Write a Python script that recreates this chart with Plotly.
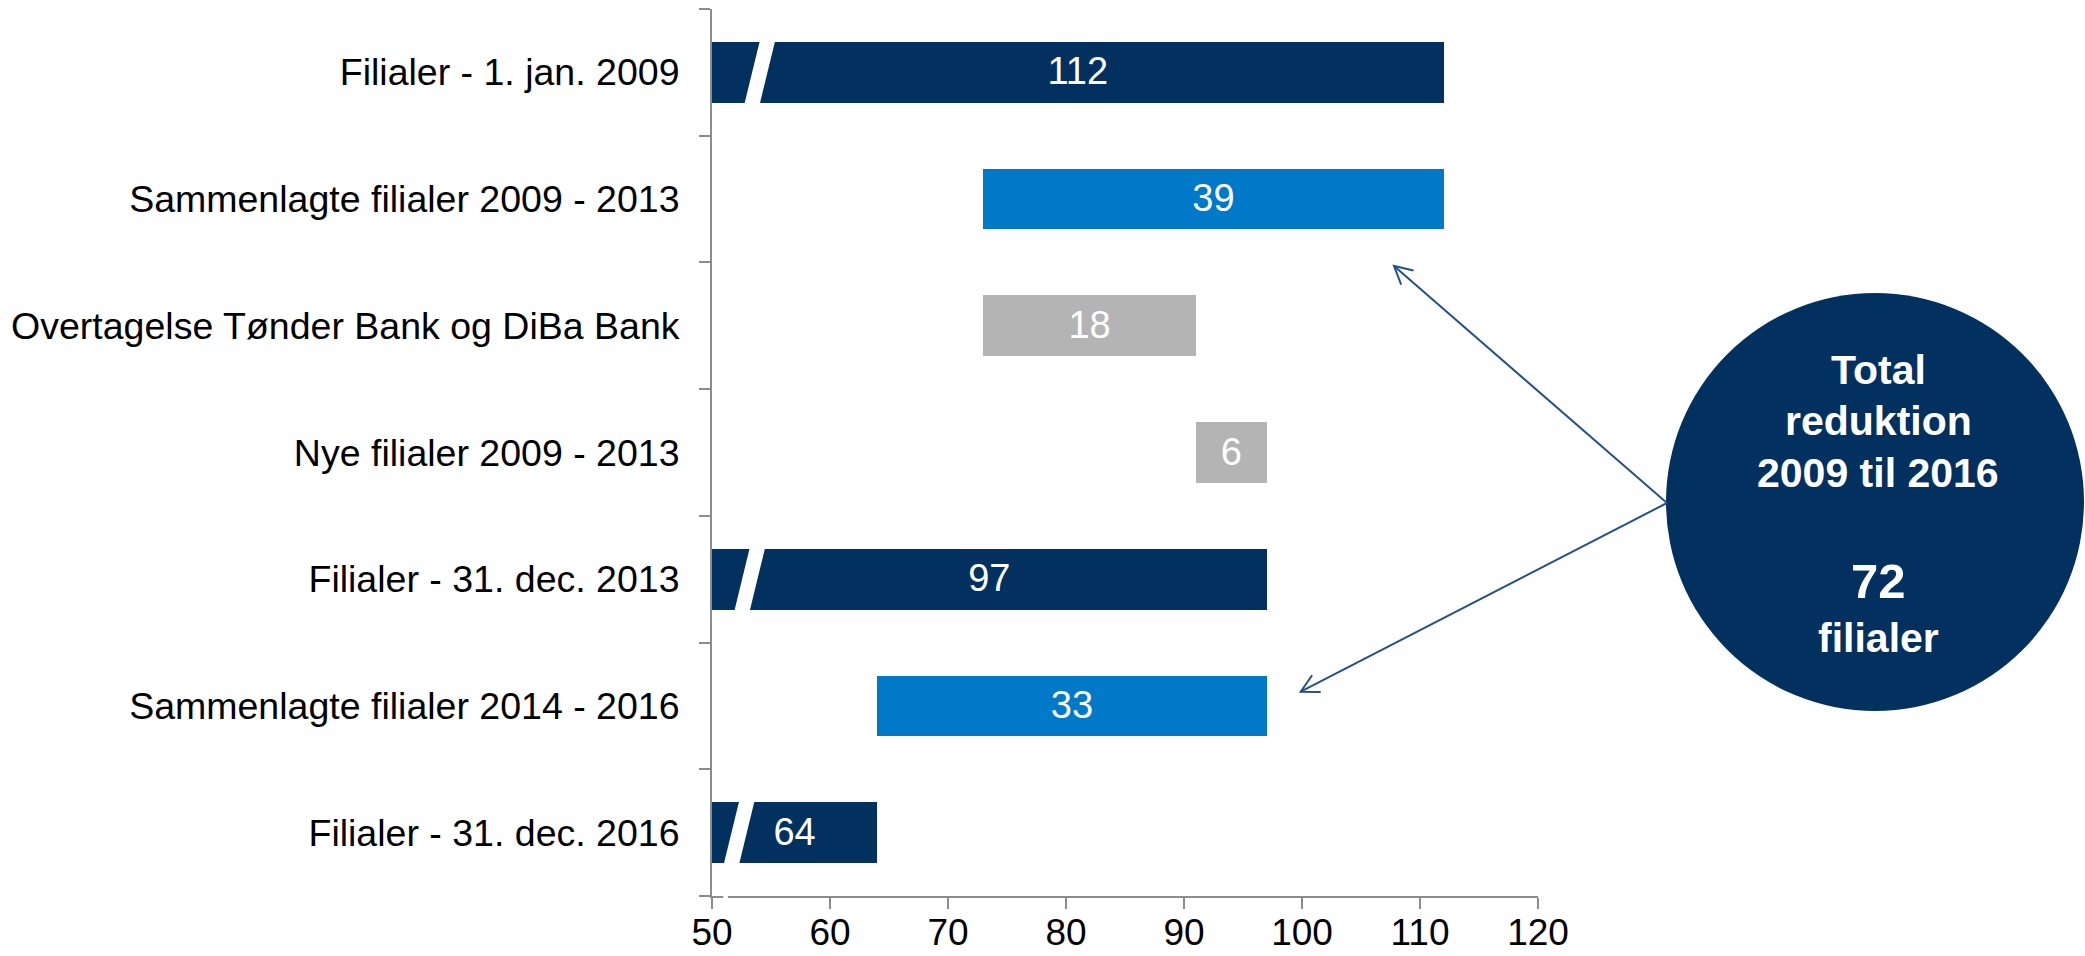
import math
import plotly.graph_objects as go

# ---------------- data ----------------
categories = [
    "Filialer - 1. jan. 2009",
    "Sammenlagte filialer 2009 - 2013",
    "Overtagelse Tønder Bank og DiBa Bank",
    "Nye filialer 2009 - 2013",
    "Filialer - 31. dec. 2013",
    "Sammenlagte filialer 2014 - 2016",
    "Filialer - 31. dec. 2016",
]
values = [112, 39, 18, 6, 97, 33, 64]
measures = ["total", "decrease", "increase", "increase", "total", "decrease", "total"]
x_tick_values = [50, 60, 70, 80, 90, 100, 110, 120]
circle_title_lines = ["Total", "reduktion", "2009 til 2016"]
circle_unit = "filialer"

# ---------------- style ----------------
NAVY = "#02305F"
BLUE = "#0079C8"
GREY = "#B4B4B4"
AXIS_GREY = "#8C8C8C"
ARROW = "#26508C"
FONT = "Arial, 'Liberation Sans', sans-serif"
measure_colors = {"total": NAVY, "decrease": BLUE, "increase": GREY}
X_MIN, X_MAX = x_tick_values[0], x_tick_values[-1]
break_x = [54.05, None, None, None, 53.2, None, 52.3]  # axis-break slash positions on total bars
BAR_W = 0.48

W, H = 2085, 956
ML, MR, MT, MB = 712, 547, 9, 60
PW, PH = W - ML - MR, H - MT - MB


def px(xp):
    return (xp - ML) / PW


def py(yp):
    return (H - MB - yp) / PH


# ---------------- waterfall geometry from data ----------------
starts, ends = [], []
running = 0
for v, m in zip(values, measures):
    if m == "total":
        s, e = 0, v
        running = v
    elif m == "decrease":
        s, e = running - v, running
        running = s
    else:
        s, e = running, running + v
        running = e
    starts.append(s)
    ends.append(e)

vis_base = [max(s, X_MIN) for s in starts]
vis_len = [e - b for e, b in zip(ends, vis_base)]
ypos = list(range(len(categories)))
total_reduction = sum(v for v, m in zip(values, measures) if m == "decrease")

fig = go.Figure()
fig.add_trace(go.Bar(
    orientation="h",
    y=ypos,
    x=vis_len,
    base=vis_base,
    width=BAR_W,
    marker=dict(color=[measure_colors[m] for m in measures], line=dict(width=0)),
    hoverinfo="skip",
    showlegend=False,
))

# white axis-break slashes on the total bars
half_h = 0.26
slant = 0.68
sw = 1.3
for i, bx in enumerate(break_x):
    if bx is None:
        continue
    xs = [bx - slant - sw / 2, bx - slant + sw / 2, bx + slant + sw / 2, bx + slant - sw / 2, bx - slant - sw / 2]
    ys = [i + half_h, i + half_h, i - half_h, i - half_h, i + half_h]
    fig.add_trace(go.Scatter(
        x=xs, y=ys, mode="lines", fill="toself", fillcolor="white",
        line=dict(width=0, color="white"), hoverinfo="skip", showlegend=False,
    ))

# value labels centred on the visible part of each bar
fig.add_trace(go.Scatter(
    x=[b + l / 2 for b, l in zip(vis_base, vis_len)],
    y=[i + 0.02 for i in ypos],
    mode="text",
    text=[str(v) for v in values],
    textposition="middle center",
    textfont=dict(family=FONT, size=38, color="white"),
    hoverinfo="skip", showlegend=False,
))

shapes = []
# small gap in the x-axis line next to the y-axis (axis break)
shapes.append(dict(type="rect", xref="x", yref="paper", x0=50.95, x1=51.35,
                   y0=-0.004, y1=0.004, fillcolor="white", line=dict(width=0), layer="above"))

# circle
cx, cy, r = 1875, 502, 209
shapes.append(dict(type="circle", xref="paper", yref="paper",
                   x0=px(cx - r), x1=px(cx + r), y0=py(cy + r), y1=py(cy - r),
                   fillcolor=NAVY, line=dict(width=0), layer="above"))

# arrows
origin = (1667, 503)
tips = [(1394, 266), (1300.7, 691.7)]
for tx, ty in tips:
    shapes.append(dict(type="line", xref="paper", yref="paper",
                       x0=px(origin[0]), y0=py(origin[1]), x1=px(tx), y1=py(ty),
                       line=dict(color=ARROW, width=2)))
    dx, dy = origin[0] - tx, origin[1] - ty
    n = math.hypot(dx, dy)
    dx, dy = dx / n, dy / n
    pts = []
    for ang in (math.radians(28), math.radians(-28)):
        ax = dx * math.cos(ang) - dy * math.sin(ang)
        ay = dx * math.sin(ang) + dy * math.cos(ang)
        pts.append((tx + 20 * ax, ty + 20 * ay))
    path = "M {:.5f} {:.5f} L {:.5f} {:.5f} L {:.5f} {:.5f}".format(
        px(pts[0][0]), py(pts[0][1]), px(tx), py(ty), px(pts[1][0]), py(pts[1][1]))
    shapes.append(dict(type="path", xref="paper", yref="paper", path=path,
                       line=dict(color=ARROW, width=2)))

annotations = []
line_y = [369.5, 421, 472.5]
for txt, yy in zip(circle_title_lines, line_y):
    annotations.append(dict(xref="paper", yref="paper", x=px(1878), y=py(yy),
                            xanchor="center", yanchor="middle", showarrow=False,
                            text="<b>%s</b>" % txt,
                            font=dict(family=FONT, size=41, color="white")))
annotations.append(dict(xref="paper", yref="paper", x=px(1878), y=py(581),
                        xanchor="center", yanchor="middle", showarrow=False,
                        text="<b>%d</b>" % total_reduction,
                        font=dict(family=FONT, size=49, color="white")))
annotations.append(dict(xref="paper", yref="paper", x=px(1878), y=py(637.5),
                        xanchor="center", yanchor="middle", showarrow=False,
                        text="<b>%s</b>" % circle_unit,
                        font=dict(family=FONT, size=41, color="white")))

fig.update_layout(
    template=None,
    width=W, height=H, autosize=False,
    margin=dict(l=ML, r=MR, t=MT, b=MB, pad=0, autoexpand=False),
    paper_bgcolor="white", plot_bgcolor="white",
    showlegend=False,
    bargap=0,
    shapes=shapes,
    annotations=annotations,
    font=dict(family=FONT, color="black"),
)
fig.update_xaxes(
    automargin=False,
    range=[X_MIN, X_MAX], tickvals=x_tick_values, ticktext=[str(v) for v in x_tick_values],
    showgrid=False, zeroline=False, showline=True, linecolor=AXIS_GREY, linewidth=2,
    ticks="outside", ticklen=11, tickwidth=2, tickcolor=AXIS_GREY,
    ticklabelstandoff=-8,
    tickfont=dict(family=FONT, size=37, color="black"),
)
fig.update_yaxes(
    automargin=False,
    range=[len(categories) - 0.5, -0.5], tickvals=ypos, ticktext=categories,
    showgrid=False, zeroline=False, showline=True, linecolor=AXIS_GREY, linewidth=2,
    ticks="", ticklabelstandoff=23,
    tickfont=dict(family=FONT, size=37.5, color="black"),
    minor=dict(tickvals=[i - 0.5 for i in range(len(categories) + 1)], ticks="outside",
               ticklen=11, tickwidth=2, tickcolor=AXIS_GREY, showgrid=False),
)

fig.write_html("out.html", include_plotlyjs=True, full_html=True,
               config={"displayModeBar": False, "staticPlot": True},
               post_script="document.body.style.margin='0';document.body.style.overflow='hidden';")
